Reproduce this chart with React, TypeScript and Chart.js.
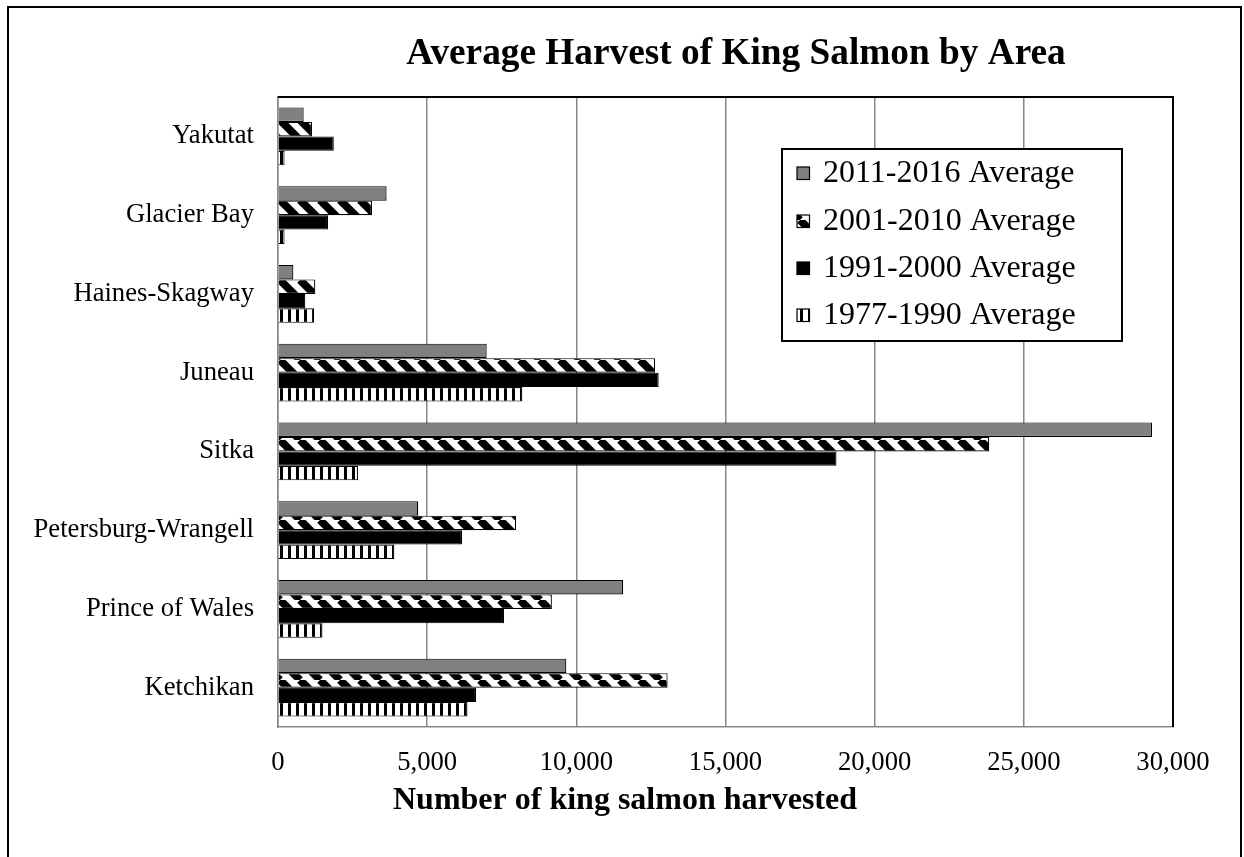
import React, { useEffect, useRef } from "react";
import { Chart, registerables } from "chart.js";

Chart.register(...registerables);

const categories = [
  "Yakutat",
  "Glacier Bay",
  "Haines-Skagway",
  "Juneau",
  "Sitka",
  "Petersburg-Wrangell",
  "Prince of Wales",
  "Ketchikan",
];
const seriesLabels = [
  "2011-2016 Average",
  "2001-2010 Average",
  "1991-2000 Average",
  "1977-1990 Average",
];
const avg2011to2016 = [860, 3640, 515, 6995, 29300, 4700, 11570, 9665];
const avg2001to2010 = [1140, 3150, 1250, 12640, 23840, 7980, 9180, 13060];
const avg1991to2000 = [1870, 1680, 915, 12760, 18720, 6170, 7580, 6640];
const avg1977to1990 = [220, 220, 1210, 8190, 2680, 3900, 1490, 6350];
const xTicks = [0, 5000, 10000, 15000, 20000, 25000, 30000];

const chartTitle = "Average Harvest of King Salmon by Area";
const xAxisTitle = "Number of king salmon harvested";

const SERIF = "'Liberation Serif', 'Times New Roman', serif";

function makeDiagonalPattern(): CanvasPattern | string {
  const size = 20;
  const c = document.createElement("canvas");
  c.width = size;
  c.height = size;
  const g = c.getContext("2d");
  if (!g) return "#000";
  g.fillStyle = "#fff";
  g.fillRect(0, 0, size, size);
  g.strokeStyle = "#000";
  g.lineWidth = 7.8;
  for (const off of [-size, 0, size]) {
    g.beginPath();
    g.moveTo(off, 0);
    g.lineTo(off + size, size);
    g.stroke();
  }
  return g.createPattern(c, "repeat") || "#000";
}

function makeVerticalPattern(): CanvasPattern | string {
  const w = 8;
  const c = document.createElement("canvas");
  c.width = w;
  c.height = 4;
  const g = c.getContext("2d");
  if (!g) return "#000";
  g.fillStyle = "#fff";
  g.fillRect(0, 0, w, 4);
  g.fillStyle = "#000";
  g.fillRect(0, 0, 3, 4);
  return g.createPattern(c, "repeat") || "#000";
}

const decorPlugin = {
  id: "decor",
  beforeDraw(chart: any) {
    const ctx = chart.ctx;
    ctx.save();
    ctx.fillStyle = "#fff";
    ctx.fillRect(0, 0, chart.width, chart.height);
    ctx.restore();
  },
  afterDraw(chart: any) {
    const ctx = chart.ctx;
    const area = chart.chartArea;
    ctx.save();
    // outer frame
    ctx.strokeStyle = "#000";
    ctx.lineWidth = 2;
    ctx.strokeRect(8, 7, 1233, 900);
    // plot top & right border
    ctx.beginPath();
    ctx.moveTo(area.left, area.top);
    ctx.lineTo(area.right, area.top);
    ctx.lineTo(area.right, area.bottom);
    ctx.stroke();
    // title
    ctx.fillStyle = "#000";
    ctx.textAlign = "center";
    ctx.textBaseline = "middle";
    ctx.font = `bold 37.3px ${SERIF}`;
    ctx.fillText(chartTitle, 736, 54);
    // axis title
    ctx.font = `bold 32px ${SERIF}`;
    ctx.fillText(xAxisTitle, 625, 801);
    // legend
    const lx = 782, ly = 149, lw = 340, lh = 192;
    ctx.fillStyle = "#fff";
    ctx.fillRect(lx, ly, lw, lh);
    ctx.strokeStyle = "#000";
    ctx.lineWidth = 2;
    ctx.strokeRect(lx, ly, lw, lh);
    const rows = [173, 221, 268, 315];
    ctx.font = `32px ${SERIF}`;
    ctx.textAlign = "left";
    ctx.textBaseline = "middle";
    chart.data.datasets.forEach((ds: any, i: number) => {
      const cy = rows[i];
      ctx.fillStyle = ds.backgroundColor;
      ctx.fillRect(797, cy - 6, 12.5, 12.5);
      ctx.lineWidth = 1.2;
      ctx.strokeStyle = "#000";
      ctx.strokeRect(797, cy - 6, 12.5, 12.5);
      ctx.fillStyle = "#000";
      ctx.fillText(ds.label, 823, cy + 1);
    });
    ctx.restore();
  },
};

export default function App() {
  const ref = useRef<HTMLCanvasElement | null>(null);
  useEffect(() => {
    if (!ref.current) return;
    const diag = makeDiagonalPattern();
    const vert = makeVerticalPattern();
    const fills = ["#808080", diag, "#000000", vert];
    const values = [avg2011to2016, avg2001to2010, avg1991to2000, avg1977to1990];
    const chart = new Chart(ref.current, {
      type: "bar",
      data: {
        labels: categories,
        datasets: seriesLabels.map((label, i) => ({
          label,
          data: values[i],
          backgroundColor: fills[i] as any,
          borderColor: "#000",
          borderWidth: 1.2,
          categoryPercentage: 0.736,
          barPercentage: 1,
        })),
      },
      options: {
        indexAxis: "y",
        responsive: false,
        animation: false,
        layout: { padding: { top: 97, right: 71, left: 0, bottom: 0 } },
        plugins: {
          legend: { display: false },
          title: { display: false },
          tooltip: { enabled: false },
        },
        scales: {
          x: {
            min: 0,
            max: 30000,
            afterFit: (s: any) => {
              s.height = 130;
            },
            afterBuildTicks: (s: any) => {
              s.ticks = xTicks.map((v) => ({ value: v }));
            },
            ticks: {
              color: "#000",
              font: { family: SERIF, size: 26.67 },
              padding: 20,
              maxRotation: 0,
              callback: (v: any) => Number(v).toLocaleString("en-US"),
            },
            grid: { color: "#888", lineWidth: 1.5, drawTicks: false },
            border: { color: "#888", width: 1.5 },
          },
          y: {
            afterFit: (s: any) => {
              s.width = 278;
            },
            ticks: {
              color: "#000",
              font: { family: SERIF, size: 26.67 },
              padding: 24,
            },
            grid: { display: false, drawTicks: false },
            border: { color: "#888", width: 1.5 },
          },
        },
      },
      plugins: [decorPlugin],
    });
    return () => chart.destroy();
  }, []);
  return (
    <canvas
      ref={ref}
      width={1244}
      height={857}
      style={{ position: "fixed", left: 0, top: 0, width: 1244, height: 857 }}
    />
  );
}
